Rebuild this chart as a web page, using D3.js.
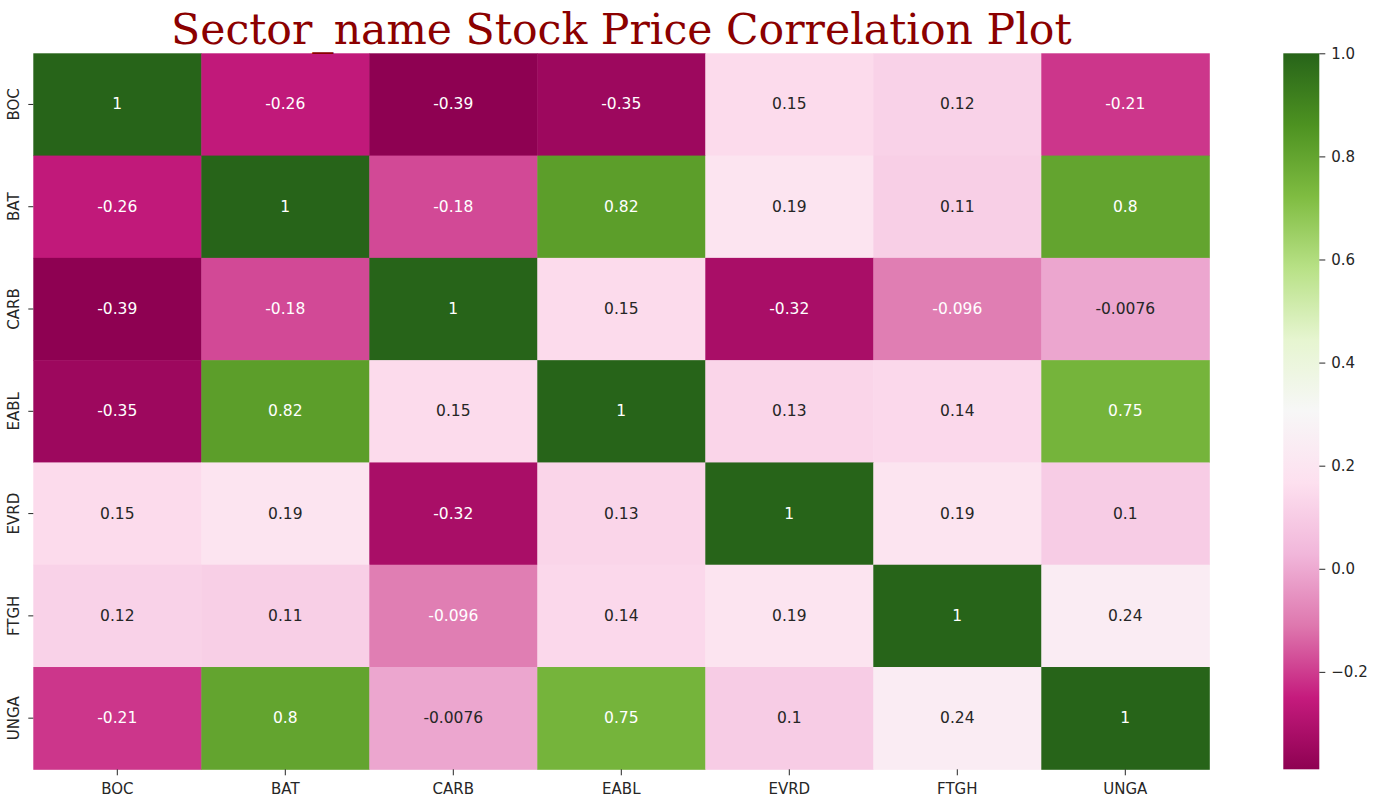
<!DOCTYPE html>
<html>
<head>
  <meta charset="utf-8">
  <script src="https://d3js.org/d3.v7.min.js"></script>
  <style>
    body { margin: 0; background: #fff; }
    text { font-family: "DejaVu Sans", sans-serif; }
    .tick line { stroke: #262626; }
    .tick text { fill: #262626; }
    .domain { stroke: none; }
  </style>
</head>
<body>
<svg id="heat" width="1382" height="799"></svg>
<script>
  const names = ["BOC", "BAT", "CARB", "EABL", "EVRD", "FTGH", "UNGA"];
  const corr = [
    [1, -0.26, -0.39, -0.35, 0.15, 0.12, -0.21],
    [-0.26, 1, -0.18, 0.82, 0.19, 0.11, 0.8],
    [-0.39, -0.18, 1, 0.15, -0.32, -0.096, -0.0076],
    [-0.35, 0.82, 0.15, 1, 0.13, 0.14, 0.75],
    [0.15, 0.19, -0.32, 0.13, 1, 0.19, 0.1],
    [0.12, 0.11, -0.096, 0.14, 0.19, 1, 0.24],
    [-0.21, 0.8, -0.0076, 0.75, 0.1, 0.24, 1]
  ];
  const barTicks = [-0.2, 0, 0.2, 0.4, 0.6, 0.8, 1.0];
  // matplotlib PiYG stops
  const piyg = ["#8e0152", "#c51b7d", "#de77ae", "#f1b6da", "#fde0ef", "#f7f7f7",
                "#e6f5d0", "#b8e186", "#7fbc41", "#4d9221", "#276419"];

  const vmin = -0.389, vmax = 1.0;

  const svg = d3.select("svg#heat");
  const plot = { left: 33.3, top: 53.3, width: 1176, height: 716 };

  const x = d3.scaleBand().domain(names).range([0, plot.width]);
  const y = d3.scaleBand().domain(names).range([0, plot.height]);
  const color = d3.scaleLinear()
    .domain(d3.range(piyg.length).map(i => vmin + (vmax - vmin) * i / (piyg.length - 1)))
    .range(piyg)
    .interpolate(d3.interpolateRgb)
    .clamp(true);

  const fmt = d3.formatLocale({ decimal: ".", thousands: ",", grouping: [3], currency: ["", ""], minus: "-" }).format(".2~g");

  // seaborn picks text colour from relative luminance
  function lum(c) {
    const rgb = d3.rgb(c);
    const f = v => { v = v / 255; return v <= 0.03928 ? v / 12.92 : Math.pow((v + 0.055) / 1.055, 2.4); };
    return 0.2126 * f(rgb.r) + 0.7152 * f(rgb.g) + 0.0722 * f(rgb.b);
  }

  const cells = [];
  corr.forEach((row, i) => row.forEach((v, j) => cells.push({ r: names[i], c: names[j], v: v })));

  const chart = svg.append("g").attr("transform", "translate(" + plot.left + "," + plot.top + ")");

  chart.selectAll("rect.cell").data(cells)
    .join("rect")
    .attr("class", "cell")
    .attr("x", d => x(d.c))
    .attr("y", d => y(d.r))
    .attr("width", x.bandwidth() + 0.5)
    .attr("height", y.bandwidth() + 0.5)
    .attr("fill", d => color(d.v));

  chart.selectAll("text.annot").data(cells)
    .join("text")
    .attr("class", "annot")
    .attr("x", d => x(d.c) + x.bandwidth() / 2)
    .attr("y", d => y(d.r) + y.bandwidth() / 2)
    .attr("text-anchor", "middle")
    .attr("dominant-baseline", "central")
    .style("font-size", "15.5px")
    .attr("fill", d => lum(color(d.v)) > 0.408 ? "#262626" : "#ffffff")
    .text(d => fmt(d.v));

  // axes
  const bottomAxis = d3.axisBottom(x).tickSize(6).tickPadding(5);
  const gx = chart.append("g")
    .attr("transform", "translate(0," + plot.height + ")")
    .call(bottomAxis);
  gx.selectAll("text").style("font-size", "15px").attr("dy", "0.9em");

  const leftAxis = d3.axisLeft(y).tickSize(5).tickPadding(0);
  const gy = chart.append("g").call(leftAxis);
  gy.selectAll(".tick text")
    .style("font-size", "15px")
    .attr("x", null).attr("dy", null)
    .attr("text-anchor", "middle")
    .attr("transform", "translate(-13,0) rotate(-90)")
    .attr("dy", "-0.1em");

  // colorbar
  const bar = { left: 1283.3, top: 53.3, width: 36, height: 716 };
  const cb = d3.scaleLinear().domain([vmin, vmax]).range([bar.height, 0]);
  const defs = svg.append("defs");
  const grad = defs.append("linearGradient").attr("id", "cbgrad")
    .attr("x1", 0).attr("y1", 1).attr("x2", 0).attr("y2", 0);
  color.domain().forEach((v, i) => {
    grad.append("stop").attr("offset", (v - vmin) / (vmax - vmin)).attr("stop-color", piyg[i]);
  });
  const gcb = svg.append("g").attr("transform", "translate(" + bar.left + "," + bar.top + ")");
  gcb.append("rect").attr("width", bar.width).attr("height", bar.height).attr("fill", "url(#cbgrad)");
  const rightAxis = d3.axisRight(cb).tickValues(barTicks).tickFormat(d3.format(".1f")).tickSize(6).tickPadding(6);
  gcb.append("g").attr("transform", "translate(" + bar.width + ",0)").call(rightAxis)
    .selectAll("text").style("font-size", "15px");

  // title
  svg.append("text")
    .attr("x", plot.left + plot.width / 2)
    .attr("y", 43.5)
    .attr("text-anchor", "middle")
    .style("font-family", "'DejaVu Serif', serif")
    .style("font-size", "42.6px")
    .attr("fill", "#8b0000")
    .text("Sector_name Stock Price Correlation Plot");
</script>
</body>
</html>
